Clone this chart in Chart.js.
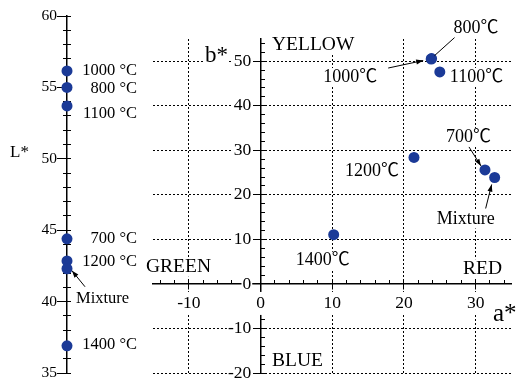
<!DOCTYPE html>
<html>
<head>
<meta charset="utf-8">
<script src="https://cdn.jsdelivr.net/npm/chart.js@4.4.0/dist/chart.umd.min.js"></script>
<style>
  html, body { margin: 0; padding: 0; background: #fff; overflow: hidden; }
  #wrap { position: relative; width: 517px; height: 378px; overflow: hidden; }
  #lchart { position: absolute; left: 0; top: 0; }
  #abchart { position: absolute; left: 140px; top: 0; }
</style>
</head>
<body>
<div id="wrap">
  <canvas id="lchart" width="150" height="388"></canvas>
  <canvas id="abchart" width="377" height="388"></canvas>
</div>
<script>
// samples and their CIELAB readings
var samples = ["700", "800", "1000", "1100", "1200", "1400", "Mixture"];
var lValues = [44.4, 55.0, 56.15, 53.7, 42.85, 36.9, 42.3];
var aValues = [31.3, 23.85, 23.8, 25.0, 21.4, 10.2, 32.65];
var bValues = [25.6, 50.6, 50.5, 47.6, 28.4, 11.05, 23.9];

// axis tick labels
var lTicks = [35, 40, 45, 50, 55, 60];
var aTicks = [-10, 0, 10, 20, 30];
var bTicks = [-20, -10, 0, 10, 20, 30, 40, 50];

var serif = "'Liberation Serif', 'Noto Sans CJK JP', serif";
var dotBlue = "#1b3a97";
var lFont = { family: serif, size: 15.5 };
var abFont = { family: serif, size: 17.5 };

function range(from, to, step) {
  var out = [];
  for (var v = from; v <= to + 1e-9; v += step) out.push(v);
  return out;
}
function setTicks(values) {
  return function (scale) {
    scale.ticks = values.map(function (v) { return { value: v }; });
  };
}
function hideZero(ctx) {
  if (!ctx.tick || ctx.tick.value === 0) return "rgba(0,0,0,0)";
  return "#000";
}

// minor tick-mark scale (no labels, no grid)
function minorScale(axis, min, max, values, len, pos) {
  return {
    type: "linear", axis: axis, min: min, max: max, position: pos,
    afterBuildTicks: setTicks(values),
    ticks: { display: false, autoSkip: false },
    grid: { drawOnChartArea: false, tickLength: len, tickColor: "#000", lineWidth: 1 },
    border: { display: false }
  };
}

// text + arrow notes drawn on top of the chart
function drawNotes(chart, opts) {
  var ctx = chart.ctx;
  var meta = chart.getDatasetMeta(0);
  ctx.save();
  (opts.items || []).forEach(function (n) {
    var ox = 0, oy = 0;
    if (n.i !== undefined) {
      ox = meta.data[n.i].x;
      oy = meta.data[n.i].y;
    }
    var size = n.size || opts.size || 16.5;
    var x = ox + n.dx, y = oy + n.dy;
    ctx.font = size + "px " + serif;
    ctx.textAlign = n.align || "left";
    ctx.textBaseline = "middle";
    var w = ctx.measureText(n.text).width;
    if (n.bg) {
      var left = n.align === "right" ? x - w : (n.align === "center" ? x - w / 2 : x);
      ctx.fillStyle = "#fff";
      ctx.fillRect(left - 1, y - size / 2, w + 2, size);
    }
    ctx.fillStyle = "#000";
    ctx.fillText(n.text, x, y);
    if (n.arrow) {
      var x1 = ox + n.arrow[0], y1 = oy + n.arrow[1];
      var x2 = ox + n.arrow[2], y2 = oy + n.arrow[3];
      ctx.strokeStyle = "#000";
      ctx.lineWidth = 1;
      ctx.beginPath();
      ctx.moveTo(x1, y1);
      ctx.lineTo(x2, y2);
      ctx.stroke();
      if (n.head !== false) {
        var ang = Math.atan2(y2 - y1, x2 - x1);
        ctx.fillStyle = "#000";
        ctx.beginPath();
        ctx.moveTo(x2, y2);
        ctx.lineTo(x2 - 7 * Math.cos(ang) + 2.5 * Math.sin(ang), y2 - 7 * Math.sin(ang) - 2.5 * Math.cos(ang));
        ctx.lineTo(x2 - 7 * Math.cos(ang) - 2.5 * Math.sin(ang), y2 - 7 * Math.sin(ang) + 2.5 * Math.cos(ang));
        ctx.closePath();
        ctx.fill();
      }
    }
  });
  ctx.restore();
}
var notesPlugin = { id: "notes", afterDatasetsDraw: function (chart, args, opts) { drawNotes(chart, opts); } };

var pointStyle = {
  pointRadius: 5.5, pointHoverRadius: 5.5, pointBorderWidth: 0,
  pointBackgroundColor: dotBlue, pointBorderColor: dotBlue, clip: false
};

// ---------- L* strip ----------
new Chart(document.getElementById("lchart"), {
  type: "scatter",
  data: {
    datasets: [Object.assign({
      label: "L*",
      data: lValues.map(function (v) { return { x: 0, y: v }; })
    }, pointStyle)]
  },
  options: {
    responsive: false, animation: false, devicePixelRatio: 1,
    layout: { padding: { left: 67, right: 20, top: 16, bottom: 15 } },
    plugins: {
      legend: { display: false }, tooltip: { enabled: false },
      notes: {
        size: 16.5,
        items: [
          { i: 0, dx: 70, dy: 0, align: "right", text: "700 °C" },
          { i: 1, dx: 70, dy: 1, align: "right", text: "800 °C" },
          { i: 2, dx: 70, dy: 0, align: "right", text: "1000 °C" },
          { i: 3, dx: 70, dy: 8, align: "right", text: "1100 °C" },
          { i: 4, dx: 70, dy: 1, align: "right", text: "1200 °C" },
          { i: 5, dx: 70, dy: -1, align: "right", text: "1400 °C" },
          { i: 6, dx: 9, dy: 30, align: "left", text: "Mixture", arrow: [18, 18, 5, 2] },
          { dx: 10, dy: 153, align: "left", text: "L*", size: 17 }
        ]
      }
    },
    scales: {
      x: { type: "linear", min: 0, max: 63, display: false },
      y: {
        type: "linear", axis: "y", min: 35, max: 60, position: { x: 0 },
        afterBuildTicks: setTicks(lTicks),
        ticks: { display: false, autoSkip: false },
        grid: { drawOnChartArea: false, tickLength: 9, tickColor: "#000", lineWidth: 1 },
        border: { color: "#000", width: 1.5 }
      },
      yMinL: minorScale("y", 35, 60, range(35, 60, 1), 4, { x: 0 }),
      yMinR: minorScale("y", 35, 60, range(35, 60, 1), -4, { x: 0 }),
      yLab: {
        type: "linear", axis: "y", min: 35, max: 60, position: { x: -10 },
        afterBuildTicks: setTicks(lTicks),
        ticks: { font: lFont, color: "#000", autoSkip: false, callback: function (v) { return String(v); } },
        grid: { display: false }, border: { display: false }
      }
    }
  },
  plugins: [notesPlugin]
});

// ---------- a* / b* plane ----------
new Chart(document.getElementById("abchart"), {
  type: "scatter",
  data: {
    datasets: [Object.assign({
      label: "a*b*",
      data: aValues.map(function (v, i) { return { x: v, y: bValues[i] }; })
    }, pointStyle)]
  },
  options: {
    responsive: false, animation: false, devicePixelRatio: 1,
    layout: { padding: { left: 13, right: 0, top: 39, bottom: 15 } },
    plugins: {
      legend: { display: false }, tooltip: { enabled: false },
      notes: {
        size: 18,
        items: [
          { i: 0, dx: -39, dy: -33, align: "left", text: "700℃", bg: true, arrow: [-16, -23, -4, -4] },
          { i: 1, dx: 22, dy: -30, align: "left", text: "800℃", bg: true, arrow: [23, -21, 3, -3], head: false },
          { i: 2, dx: -54, dy: 18, align: "right", text: "1000℃", bg: true, arrow: [-43, 9, -8, 1.5] },
          { i: 3, dx: 10, dy: 5, align: "left", text: "1100℃", bg: true },
          { i: 4, dx: -15, dy: 14, align: "right", text: "1200℃", bg: true },
          { i: 5, dx: -11, dy: 26, align: "center", text: "1400℃", bg: true },
          { i: 6, dx: -29, dy: 42, align: "center", text: "Mixture", bg: true, arrow: [-9, 31, -3, 7] },
          { dx: 132, dy: 45, text: "YELLOW", size: 19.5, bg: true },
          { dx: 6, dy: 267, text: "GREEN", size: 19.5, bg: true },
          { dx: 323, dy: 269, text: "RED", size: 19.5, bg: true },
          { dx: 132, dy: 361, text: "BLUE", size: 19.5, bg: true },
          { dx: 65, dy: 56, text: "b*", size: 23, bg: true },
          { dx: 353, dy: 314, text: "a*", size: 25, bg: true }
        ]
      }
    },
    scales: {
      x: {
        type: "linear", axis: "x", min: -15, max: 35, position: { y: 0 },
        afterBuildTicks: setTicks(aTicks),
        ticks: {
          font: abFont, color: "#000", padding: 4, maxRotation: 0, autoSkip: false,
          showLabelBackdrop: true, backdropColor: "#fff", backdropPadding: 1,
          callback: function (v) { return String(v); }
        },
        grid: { color: hideZero, tickColor: "#000", tickLength: 5, lineWidth: 1 },
        border: { color: "#000", width: 1.5, dash: [2, 2], z: -0.5 }
      },
      xMin: minorScale("x", -15, 35, range(-14, 34, 2), -4, { y: 0 }),
      y: {
        type: "linear", axis: "y", min: -20, max: 55, position: { x: 0 },
        afterBuildTicks: setTicks(bTicks),
        ticks: { display: false, autoSkip: false },
        grid: { color: hideZero, tickColor: "#000", tickLength: 5, lineWidth: 1 },
        border: { color: "#000", width: 1.5, dash: [2, 2], z: -0.5 }
      },
      yMin: minorScale("y", -20, 55, range(-20, 54, 2), -4, { x: 0 }),
      yLab: {
        type: "linear", axis: "y", min: -20, max: 55, position: { x: -1.3 },
        afterBuildTicks: setTicks(bTicks),
        ticks: {
          font: abFont, color: "#000", autoSkip: false,
          showLabelBackdrop: true, backdropColor: "#fff", backdropPadding: 1,
          callback: function (v) { return String(v); }
        },
        grid: { display: false }, border: { display: false }
      }
    }
  },
  plugins: [notesPlugin]
});
</script>
</body>
</html>
